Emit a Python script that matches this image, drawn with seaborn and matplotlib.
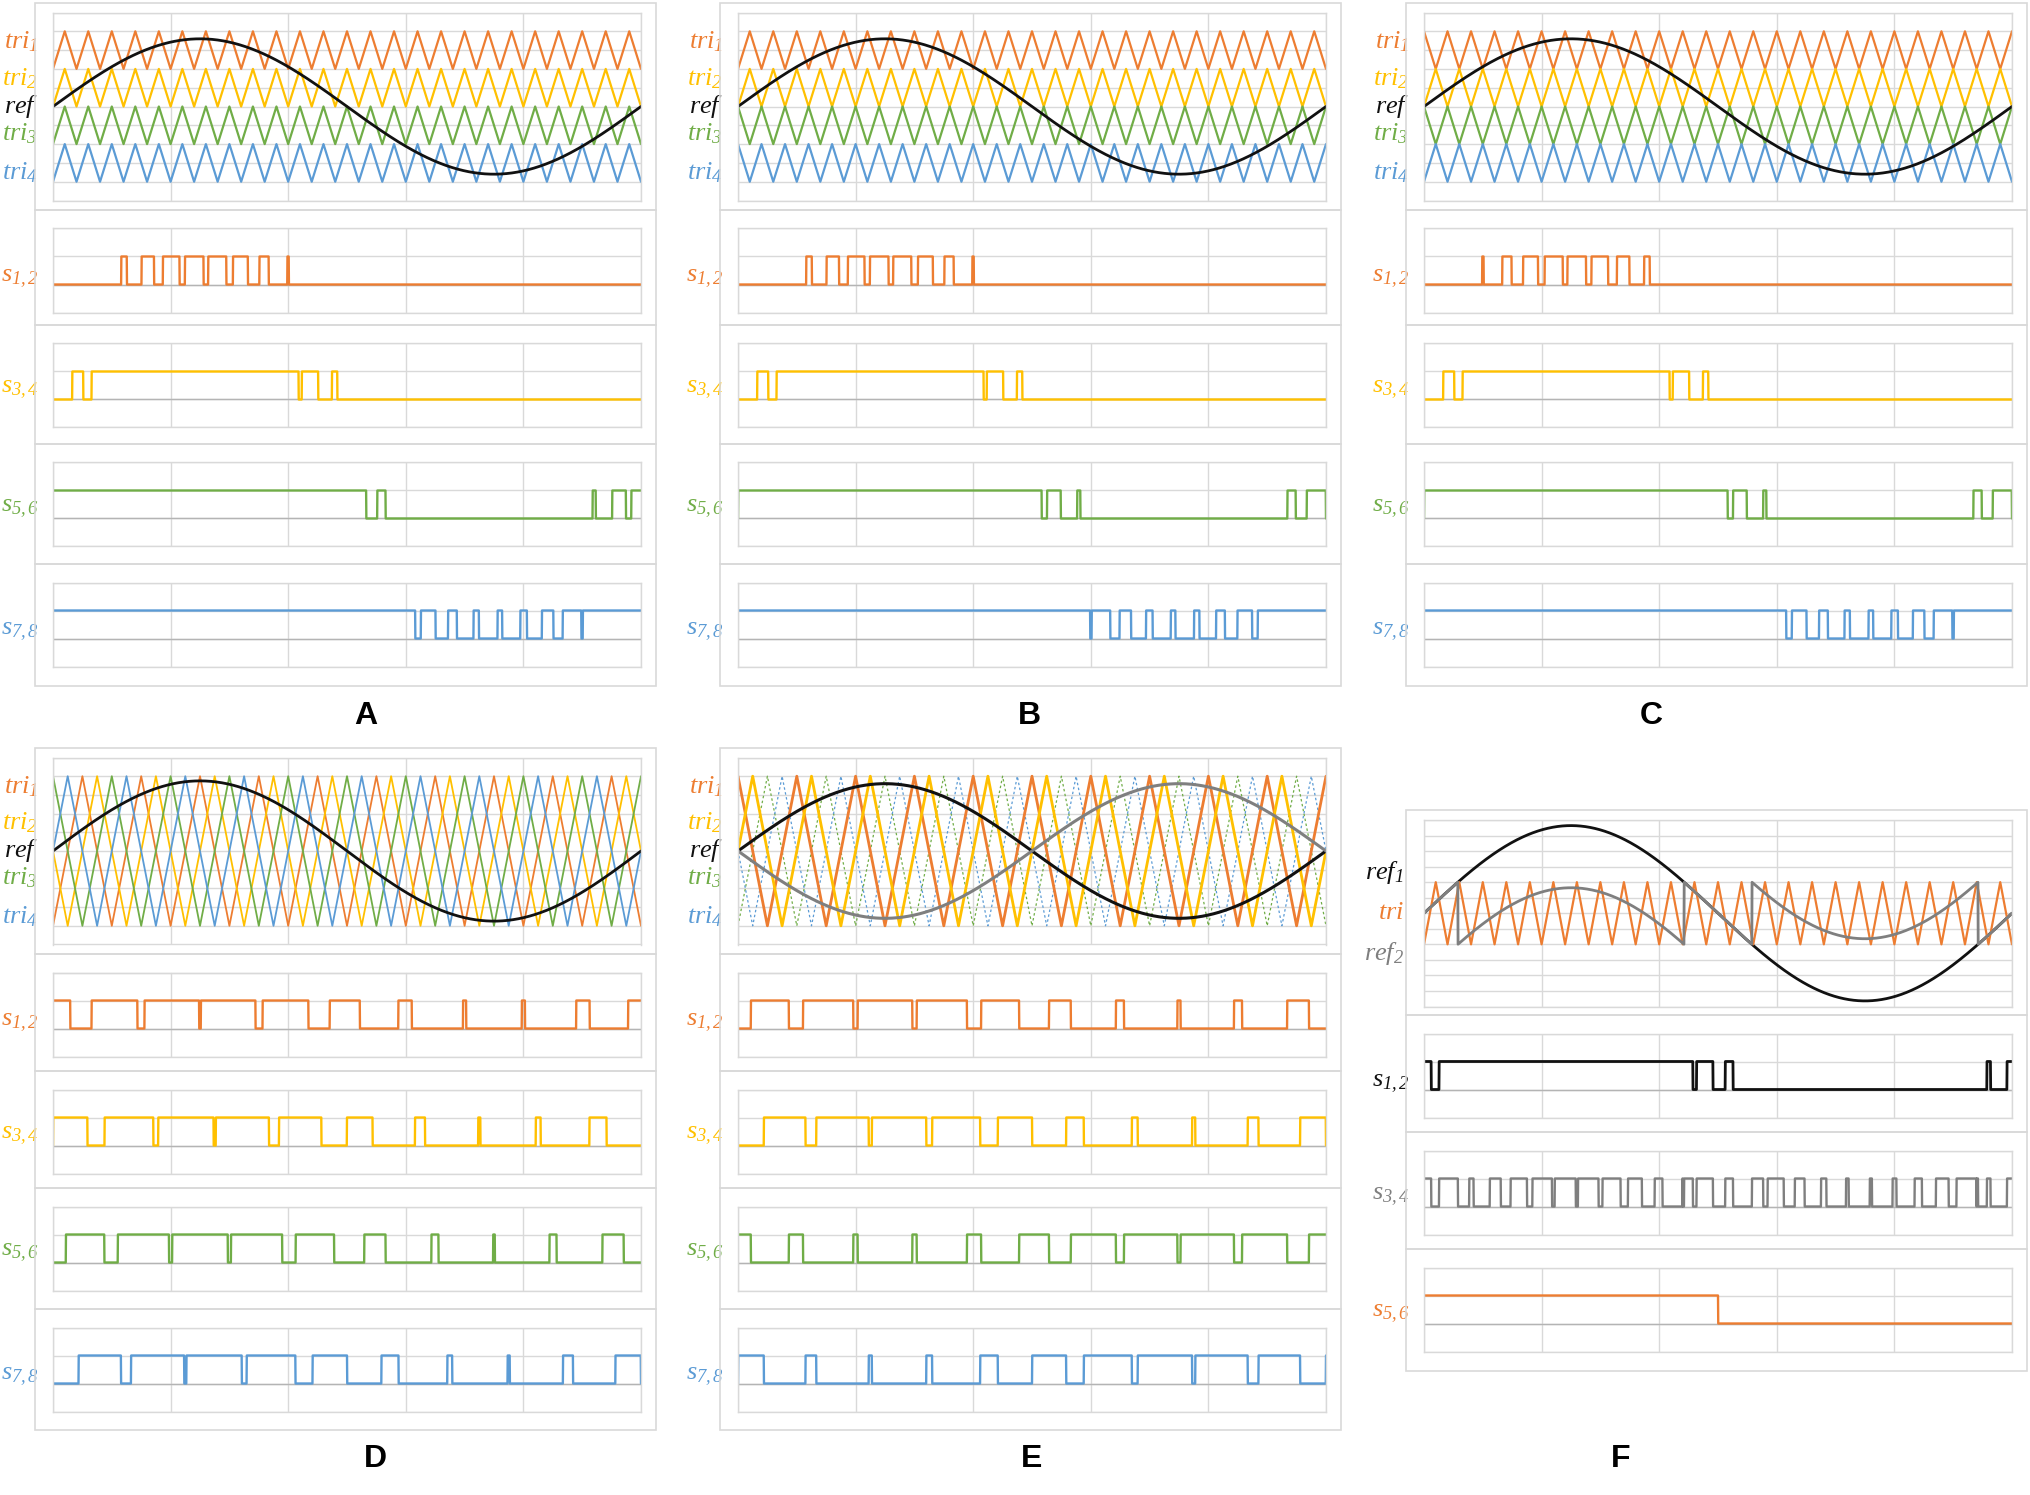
"""
Multilevel PWM carrier schemes - carriers, references and switching signals
"""

import numpy as np
import matplotlib
matplotlib.use('Agg')
import matplotlib.pyplot as plt
import matplotlib.transforms as mtransforms
from matplotlib.patches import Rectangle
import seaborn as sns

W, H = 2030, 1495

ORANGE = '#ED7D31'
YELLOW = '#FFC000'
GREEN = '#70AD47'
BLUE = '#5B9BD5'
BLACK = '#111111'
GRAY = '#7F7F7F'
GRID = '#D9D9D9'

# ---- values ----
panel_names = ['A', 'B', 'C', 'D', 'E']
n_cycles = {'A': 25, 'B': 25, 'C': 25, 'D': 10, 'E': 10, 'F': 25}
ref_amp = {'A': 3.6, 'B': 3.6, 'C': 3.6, 'D': 3.75, 'E': 3.6, 'F': 2.82}
level_bands = [(2, 4), (0, 2), (-2, 0), (-4, -2)]
full_bands = [(-4, 4), (-4, 4), (-4, 4), (-4, 4)]
carrier_bands = {'A': level_bands, 'B': level_bands, 'C': level_bands,
                 'D': full_bands, 'E': full_bands}
# where each carrier has its valley, in carrier periods
valley_shift = {'A': [0, 0, 0, 0],
                'B': [0, 0, 0.5, 0.5],
                'C': [0.5, 0, 0.5, 0],
                'D': [0, 0.25, 0.5, 0.75],
                'E': [0.5, 0.75, 0, 0.25]}
# sign of the reference each switch pair is compared with
ref_sign = {'A': [1, 1, 1, 1], 'B': [1, 1, 1, 1], 'C': [1, 1, 1, 1],
            'D': [1, 1, 1, 1], 'E': [1, 1, -1, -1]}
f_band = (-1, 1)
f_fold = 2.0

carrier_colors = [ORANGE, YELLOW, GREEN, BLUE]
tri_labels = [r'$tri_{1}$', r'$tri_{2}$', r'$ref$', r'$tri_{3}$', r'$tri_{4}$']
tri_label_y = [3.45, 1.5, 0.0, -1.45, -3.5]
tri_label_colors = [ORANGE, YELLOW, BLACK, GREEN, BLUE]
s_labels = [r'$s_{1,2}$', r'$s_{3,4}$', r'$s_{5,6}$', r'$s_{7,8}$']
s_label_y = [0.2, 0.35, 0.35, 0.25]
f_labels = [r'$ref_{1}$', r'$tri$', r'$ref_{2}$']
f_label_y = [1.3, 0.0, -1.3]
f_label_colors = [BLACK, ORANGE, GRAY]
f_s_colors = [BLACK, GRAY, ORANGE]

# ---- layout (pixels) ----
col_left = {'A': 35, 'B': 720, 'C': 1406, 'D': 35, 'E': 720, 'F': 1406}
box_edges = {'A': [3, 210, 325, 444, 564, 686],
             'B': [3, 210, 325, 444, 564, 686],
             'C': [3, 210, 325, 444, 564, 686],
             'D': [748, 954, 1071, 1188, 1309, 1430],
             'E': [748, 954, 1071, 1188, 1309, 1430],
             'F': [810, 1015, 1132, 1249, 1371]}
letter_pos = {'A': (366, 716), 'B': (1029, 716), 'C': (1651, 716),
              'D': (375, 1459), 'E': (1032, 1459), 'F': (1621, 1459)}
BOX_W = 621
PLOT_DX = 18
PLOT_W = 588

t = np.linspace(0, 1, 2401)


def carrier(cycles, lo, hi, shift):
    p = (t * cycles - shift) % 1.0
    return lo + (hi - lo) * (1 - np.abs(2 * p - 1))


def px_axes(fig, left, top, width, height):
    return fig.add_axes([left / W, 1 - (top + height) / H, width / W, height / H])


def add_box(fig, left, top, width, height):
    fig.add_artist(Rectangle((left / W, 1 - (top + height) / H), width / W, height / H,
                             transform=fig.transFigure, fill=False,
                             edgecolor=GRID, linewidth=1.2))


def style_axes(ax, ylim, yticks):
    ax.set_xlim(0, 1)
    ax.set_ylim(*ylim)
    ax.set_xticks(np.linspace(0, 1, 6))
    ax.set_yticks(yticks)
    ax.grid(True, color=GRID, linewidth=1.0)
    ax.set_axisbelow(True)
    ax.tick_params(length=0, labelbottom=False, labelleft=False)
    for sp in ax.spines.values():
        sp.set_color(GRID)
        sp.set_linewidth(1.0)
    ax.set_xlabel('')
    ax.set_ylabel('')


def left_label(ax, y, text, color, gap):
    trans = mtransforms.blended_transform_factory(ax.transAxes, ax.transData)
    ax.text(-gap / PLOT_W, y, text, transform=trans, ha='right', va='center',
            color=color, fontsize=19)


def line(ax, y, color, lw, **kw):
    sns.lineplot(x=t, y=y, ax=ax, color=color, linewidth=lw,
                 estimator=None, sort=False, legend=False, **kw)


def draw_switch_axes(fig, left, edges, signals, colors, labels):
    for k, (sig, c, lab) in enumerate(zip(signals, colors, labels)):
        top, bot = edges[k + 1], edges[k + 2]
        add_box(fig, left, top, BOX_W, bot - top)
        ax = px_axes(fig, left + PLOT_DX, top + 18.5, PLOT_W, 84)
        style_axes(ax, (-1, 2), [-1, 0, 1, 2])
        ax.axhline(0, color='#B4B4B4', linewidth=1.0, zorder=1)
        line(ax, sig, c, 1.7 if c != BLACK else 2.0)
        left_label(ax, s_label_y[k], lab, c, 14)


sns.set_theme(style='white')
plt.rcParams['font.family'] = ['Liberation Serif', 'DejaVu Serif']
plt.rcParams['mathtext.fontset'] = 'custom'
plt.rcParams['mathtext.it'] = 'Liberation Serif:italic'
plt.rcParams['mathtext.rm'] = 'Liberation Serif:italic'
plt.rcParams['mathtext.default'] = 'it'

fig = plt.figure(figsize=(W / 100, H / 100), dpi=100)
fig.patch.set_facecolor('white')

# ---- panels A to E ----
for name in panel_names:
    left = col_left[name]
    edges = box_edges[name]
    add_box(fig, left, edges[0], BOX_W, edges[1] - edges[0])
    ax = px_axes(fig, left + PLOT_DX, edges[0] + 9.5, PLOT_W, edges[1] - edges[0] - 19)
    style_axes(ax, (-5, 5), range(-5, 6))

    ref = ref_amp[name] * np.sin(2 * np.pi * t)
    tris = [carrier(n_cycles[name], lo, hi, sh)
            for (lo, hi), sh in zip(carrier_bands[name], valley_shift[name])]

    if name == 'E':
        line(ax, tris[2], GREEN, 0.9, linestyle=(0, (2, 2)))
        line(ax, tris[3], BLUE, 0.9, linestyle=(0, (2, 2)))
        line(ax, tris[0], ORANGE, 2.0)
        line(ax, tris[1], YELLOW, 2.0)
        line(ax, ref, BLACK, 2.2)
        line(ax, -ref, GRAY, 2.2)
    else:
        lw = 1.3 if name == 'D' else 1.6
        for tri, c in zip(tris, carrier_colors):
            line(ax, tri, c, lw)
        line(ax, ref, BLACK, 2.0)

    for y, lab, c in zip(tri_label_y, tri_labels, tri_label_colors):
        left_label(ax, y, lab, c, 15)

    signals = [(sgn * ref > tri).astype(float) for sgn, tri in zip(ref_sign[name], tris)]
    draw_switch_axes(fig, left, edges, signals, carrier_colors, s_labels)

# ---- panel F ----
left = col_left['F']
edges = box_edges['F']
add_box(fig, left, edges[0], BOX_W, edges[1] - edges[0])
ax = px_axes(fig, left + PLOT_DX, edges[0] + 10, PLOT_W, edges[1] - edges[0] - 18.5)
style_axes(ax, (-3, 3), np.arange(-3, 3.01, 0.5))

ref1 = ref_amp['F'] * np.sin(2 * np.pi * t)
ref2 = np.where(ref1 > f_band[1], ref1 - f_fold,
                np.where(ref1 < f_band[0], ref1 + f_fold, ref1))
tri_f = carrier(n_cycles['F'], f_band[0], f_band[1], 0)
line(ax, ref1, BLACK, 2.0)
line(ax, tri_f, ORANGE, 1.6)
line(ax, ref2, GRAY, 2.0)
for y, lab, c in zip(f_label_y, f_labels, f_label_colors):
    left_label(ax, y, lab, c, 20)

f_signals = [(ref1 > tri_f).astype(float), (ref2 > tri_f).astype(float),
             (ref1 >= 0).astype(float)]
draw_switch_axes(fig, left, edges, f_signals, f_s_colors, s_labels[:3])

# ---- panel letters ----
for name, (x, y) in letter_pos.items():
    fig.text(x / W, 1 - y / H, name, ha='center', va='center', fontsize=23,
             fontweight='bold', family='Liberation Sans', color='black')

fig.savefig('out.png', dpi=100, facecolor='white')
plt.close(fig)
